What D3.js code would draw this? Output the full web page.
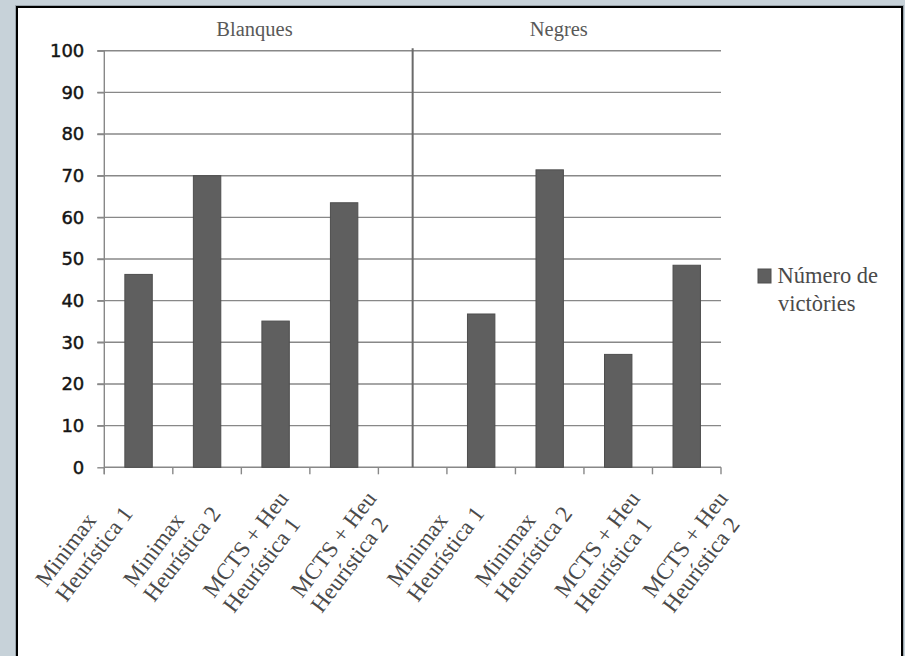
<!DOCTYPE html>
<html>
<head>
<meta charset="utf-8">
<script src="https://cdn.jsdelivr.net/npm/d3@7"></script>
<style>
  html, body { margin: 0; padding: 0; background: #c7d2d9; }
  svg { display: block; }
</style>
</head>
<body>
<svg id="chart" width="905" height="656"></svg>
<script>
// ---- data ----
const groups = ["Blanques", "Negres"];
const categoryLines = [
  ["Minimax", "Heurística 1"],
  ["Minimax", "Heurística 2"],
  ["MCTS + Heu", "Heurística 1"],
  ["MCTS + Heu", "Heurística 2"]
];
const blanquesValues = [46.3, 70.0, 35.1, 63.5];
const negresValues = [36.8, 71.4, 27.1, 48.5];
const yTicks = [0, 10, 20, 30, 40, 50, 60, 70, 80, 90, 100];
const seriesName = ["Número de", "victòries"];

(function () {
// slots: 4 Blanques, a spacer, 4 Negres
const slots = [];
categoryLines.forEach((c, i) => slots.push({key: "B" + i, group: 0, lines: c, value: blanquesValues[i]}));
slots.push({key: "sep", group: -1, lines: null, value: null});
categoryLines.forEach((c, i) => slots.push({key: "N" + i, group: 1, lines: c, value: negresValues[i]}));

const svg = d3.select("#chart");

// panel
svg.append("rect").attr("x", 15).attr("y", 5).attr("width", 889).attr("height", 660).attr("fill", "#9aa5ac");
svg.append("rect").attr("x", 17).attr("y", 7).attr("width", 885).attr("height", 660)
  .attr("fill", "#ffffff").attr("stroke", "#000").attr("stroke-width", 2);

const pl = 104.3, pr = 721, pt = 50.7, pb = 467.3;

const x = d3.scaleBand().domain(slots.map(d => d.key)).range([pl, pr]).padding(0);
const y = d3.scaleLinear().domain([0, 100]).range([pb, pt]);

// gridlines
svg.append("g").selectAll("line").data(yTicks.filter(t => t > 0)).join("line")
  .attr("x1", pl - 7).attr("x2", pr)
  .attr("y1", d => y(d)).attr("y2", d => y(d))
  .attr("stroke", "#888888").attr("stroke-width", 1.4);

// y axis
const yAxis = d3.axisLeft(y).tickValues(yTicks).tickSize(7).tickPadding(13).tickFormat(d3.format("d"));
const yg = svg.append("g").attr("transform", `translate(${pl},0)`).call(yAxis);
yg.select(".domain").attr("stroke", "#888888").attr("stroke-width", 1.4).attr("d", `M0,${pt}V${pb + 7}`);
yg.selectAll(".tick line").attr("stroke", "#888888").attr("stroke-width", 1.4);
yg.selectAll(".tick text").attr("font-family", "DejaVu Sans").attr("font-size", 18)
  .attr("fill", "#141414").attr("stroke", "#141414").attr("stroke-width", 0.45);

// x axis (boundary ticks)
const boundaries = slots.map(d => x(d.key)).concat([pr]);
svg.append("line").attr("x1", pl).attr("x2", pr).attr("y1", pb).attr("y2", pb)
  .attr("stroke", "#888888").attr("stroke-width", 1.4);
svg.append("g").selectAll("line").data(boundaries).join("line")
  .attr("x1", d => d).attr("x2", d => d).attr("y1", pb).attr("y2", pb + 7)
  .attr("stroke", "#888888").attr("stroke-width", 1.4);

// bars
const barW = x.bandwidth() * 0.4;
svg.append("g").selectAll("rect").data(slots.filter(d => d.value !== null)).join("rect")
  .attr("x", d => x(d.key) + (x.bandwidth() - barW) / 2)
  .attr("y", d => y(d.value))
  .attr("width", barW)
  .attr("height", d => y(0) - y(d.value))
  .attr("fill", "#5f5f5f").attr("stroke", "#4e4e4e").attr("stroke-width", 1);

// group divider
const sepX = x("sep") + x.bandwidth() / 2;
svg.append("line").attr("x1", sepX).attr("x2", sepX).attr("y1", pt - 2.5).attr("y2", pb)
  .attr("stroke", "#6a6a6a").attr("stroke-width", 2);

// group titles
const groupCenters = [(pl + sepX) / 2 - 4, (sepX + pr) / 2 - 8];
svg.append("g").selectAll("text").data(groups).join("text")
  .attr("x", (d, i) => groupCenters[i]).attr("y", 36)
  .attr("text-anchor", "middle")
  .attr("font-family", "Liberation Serif").attr("font-size", 20.5)
  .attr("fill", "#595959")
  .text(d => d);

// category labels: 8 labels spread evenly
const labeled = slots.filter(d => d.lines);
const labelPos = d3.scalePoint().domain(labeled.map(d => d.key))
  .range([x(labeled[0].key) + x.bandwidth() / 2 - 36, x(labeled[labeled.length - 1].key) + x.bandwidth() / 2 + 31]);
const fs = 23, lineGap = 25, capH = 14;
labeled.forEach(d => {
  const g = svg.append("g")
    .attr("transform", `translate(${labelPos(d.key)},${pb + 23}) rotate(-53)`)
    .attr("font-family", "Liberation Serif").attr("font-size", fs).attr("fill", "#4a4a4a");
  const texts = d.lines.map((t, i) => g.append("text").attr("y", capH + i * lineGap).text(t));
  const maxLen = d3.max(texts, t => t.node().getComputedTextLength());
  texts.forEach(t => t.attr("x", -maxLen));
});

// legend
svg.append("rect").attr("x", 758).attr("y", 269).attr("width", 13).attr("height", 14)
  .attr("fill", "#5f5f5f").attr("stroke", "#4e4e4e").attr("stroke-width", 1);
svg.append("g").selectAll("text").data(seriesName).join("text")
  .attr("x", (d, i) => i === 0 ? 777.5 : 778).attr("y", (d, i) => 282.5 + i * 28.5)
  .attr("font-family", "Liberation Serif").attr("font-size", 22.5)
  .attr("fill", "#4a4a4a")
  .text(d => d);
})();
</script>
</body>
</html>
